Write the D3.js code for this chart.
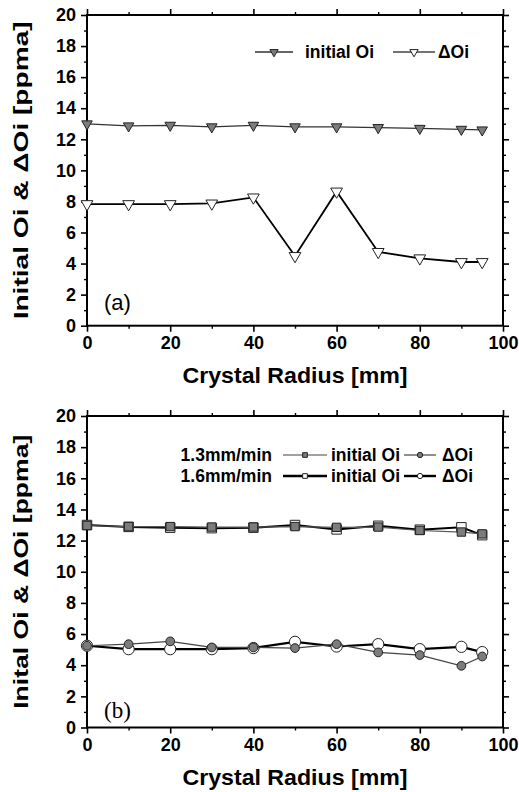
<!DOCTYPE html>
<html>
<head>
<meta charset="utf-8">
<script src="https://cdn.jsdelivr.net/npm/d3@7"></script>
<style>
body{margin:0;background:#ffffff;}
</style>
</head>
<body>
<div id="Main_Part"></div>
<script>
// crystal radius positions [mm]
var RadiusValues = [0,10,20,30,40,50,60,70,80,90,95];

// panel (a)
var InitialOiA = [12.99,12.86,12.9,12.8,12.9,12.8,12.8,12.75,12.7,12.64,12.6];
var DeltaOiA = [7.83,7.83,7.83,7.87,8.26,4.49,8.64,4.75,4.34,4.1,4.1];

// panel (b) : 1.3mm/min and 1.6mm/min
var InitialOiSlow = [12.97,12.9,12.9,12.87,12.87,12.9,12.85,12.87,12.65,12.55,12.43];
var DeltaOiSlow = [5.25,5.35,5.53,5.14,5.14,5.1,5.35,4.82,4.65,3.96,4.56];
var InitialOiFast = [13.0,12.88,12.83,12.8,12.83,13.0,12.72,12.95,12.7,12.85,12.35];
var DeltaOiFast = [5.25,5.03,5.03,5.03,5.1,5.5,5.2,5.35,5.03,5.18,4.84];

var XMajorTicks = [0,20,40,60,80,100];
var XMinorTicks = [10,30,50,70,90];
var YMajorTicks = [0,2,4,6,8,10,12,14,16,18,20];
var YMinorTicks = [1,3,5,7,9,11,13,15,17,19];

var XTitle = "Crystal Radius [mm]";
var YTitleA = "Initial Oi & \u0394Oi [ppma]";
var YTitleB = "Inital Oi & \u0394Oi [ppma]";

var SansFont = "'Liberation Sans', Arial, sans-serif";
var SerifFont = "'Liberation Serif', 'Times New Roman', serif";
var FilledGray = "#7c7c7c";
var PlotLeft = 87, PlotRight = 503;

var svg = d3.select('#Main_Part')
	.append("svg")
	.attr("width",519)
	.attr("height",792)
	.style("display","block");

function DrawFrame(yScale,xScale,TitleY,YTitle,YTitleLength)
{
	var top = yScale(20), bottom = yScale(0);

	// major and minor ticks on all four sides, pointing out
	var axes = [
		[d3.axisBottom(xScale),"translate(0," + bottom + ")",XMajorTicks,XMinorTicks,true],
		[d3.axisTop(xScale),"translate(0," + top + ")",XMajorTicks,XMinorTicks,false],
		[d3.axisLeft(yScale),"translate(" + PlotLeft + ",0)",YMajorTicks,YMinorTicks,true],
		[d3.axisRight(yScale),"translate(" + PlotRight + ",0)",YMajorTicks,YMinorTicks,false]
	];
	axes.forEach(function(a)
	{
		var major = svg.append("g")
		.attr("transform",a[1])
		.call(a[0].tickValues(a[2]).tickSize(6).tickSizeOuter(0).tickPadding(5)
			.tickFormat(a[4] ? d3.format("d") : ""));
		major.selectAll("line").attr("stroke","#000").attr("stroke-width",1.6);
		major.select(".domain").remove();
		major.selectAll("text")
		.style("font-family",SansFont)
		.style("font-weight","bold")
		.style("font-size","18px")
		.attr("fill","#000");

		var minor = svg.append("g")
		.attr("transform",a[1])
		.call(a[0].tickValues(a[3]).tickSize(3).tickFormat(""));
		minor.selectAll("line").attr("stroke","#000").attr("stroke-width",1.4);
		minor.select(".domain").remove();
	});

	svg.append("rect")
	.attr("x",PlotLeft)
	.attr("y",top)
	.attr("width",PlotRight - PlotLeft)
	.attr("height",bottom - top)
	.attr("fill","none")
	.attr("stroke","#000")
	.attr("stroke-width",2);

	svg.append("text")
	.attr("x",(PlotLeft + PlotRight)/2)
	.attr("y",TitleY)
	.attr("text-anchor","middle")
	.attr("textLength",225)
	.attr("lengthAdjust","spacingAndGlyphs")
	.text(XTitle)
	.style("font-family",SansFont)
	.style("font-weight","bold")
	.style("font-size","22px");

	svg.append("text")
	.attr("transform","translate(28," + ((top + bottom)/2) + ") rotate(-90)")
	.attr("text-anchor","middle")
	.attr("textLength",YTitleLength)
	.attr("lengthAdjust","spacingAndGlyphs")
	.text(YTitle)
	.style("font-family",SansFont)
	.style("font-weight","bold")
	.style("font-size","21px");

	return null;
}

function DrawSeries(xScale,yScale,Values,LineColor,LineWidth,Symbol,SymbolSize,Fill,Rotate)
{
	var points = RadiusValues.map(function(r,i){ return [r,Values[i]]; });

	svg.append("path")
	.datum(points)
	.attr("fill","none")
	.attr("stroke",LineColor)
	.attr("stroke-width",LineWidth)
	.attr("d",d3.line()
		.x(function(d){ return xScale(d[0]); })
		.y(function(d){ return yScale(d[1]); }));

	svg.append("g")
	.selectAll("path")
	.data(points)
	.enter()
	.append("path")
	.attr("d",d3.symbol().type(Symbol).size(SymbolSize))
	.attr("transform",function(d){
		return "translate(" + xScale(d[0]) + "," + yScale(d[1]) + ")" + (Rotate ? " rotate(180)" : "");
	})
	.attr("fill",Fill)
	.attr("stroke","#222")
	.attr("stroke-width",1);

	return null;
}

function LegendItem(x1,x2,y,LineColor,LineWidth,Symbol,SymbolSize,Fill,Rotate)
{
	svg.append("line")
	.attr("x1",x1).attr("x2",x2)
	.attr("y1",y).attr("y2",y)
	.attr("stroke",LineColor)
	.attr("stroke-width",LineWidth);

	svg.append("path")
	.attr("d",d3.symbol().type(Symbol).size(SymbolSize))
	.attr("transform","translate(" + ((x1 + x2)/2) + "," + y + ")" + (Rotate ? " rotate(180)" : ""))
	.attr("fill",Fill)
	.attr("stroke","#222")
	.attr("stroke-width",1);
	return null;
}

function LegendText(x,y,TextString,Anchor)
{
	svg.append("text")
	.attr("x",x)
	.attr("y",y)
	.attr("text-anchor",Anchor || "start")
	.text(TextString)
	.style("font-family",SansFont)
	.style("font-weight","bold")
	.style("font-size","17.5px");
	return null;
}

// ---------- panel (a)
var xA = d3.scaleLinear().domain([0,100]).range([PlotLeft,PlotRight]);
var yA = d3.scaleLinear().domain([0,20]).range([325.7,15]);

DrawFrame(yA,xA,383,YTitleA,298);
DrawSeries(xA,yA,InitialOiA,"#333",1.2,d3.symbolTriangle,48,FilledGray,true);
DrawSeries(xA,yA,DeltaOiA,"#000",1.8,d3.symbolTriangle,60,"#fff",true);

LegendItem(255,293,52,"#333",1.4,d3.symbolTriangle,30,FilledGray,true);
LegendText(305,58,"initial Oi");
LegendItem(393,435,52,"#444",1.4,d3.symbolTriangle,30,"#fff",true);
LegendText(438,58,"\u0394Oi");

svg.append("text")
.attr("x",104)
.attr("y",310)
.text("(a)")
.style("font-family",SansFont)
.style("font-size","22px");

// ---------- panel (b)
var xB = d3.scaleLinear().domain([0,100]).range([PlotLeft,PlotRight]);
var yB = d3.scaleLinear().domain([0,20]).range([727.5,416]);

DrawFrame(yB,xB,785,YTitleB,274);
DrawSeries(xB,yB,InitialOiFast,"#000",2,d3.symbolSquare,90,"#fff",false);
DrawSeries(xB,yB,InitialOiSlow,"#555",1.2,d3.symbolSquare,70,FilledGray,false);
DrawSeries(xB,yB,DeltaOiFast,"#000",2.2,d3.symbolCircle,100,"#fff",false);
DrawSeries(xB,yB,DeltaOiSlow,"#444",1.2,d3.symbolCircle,60,FilledGray,false);

LegendText(272,461,"1.3mm/min","end");
LegendItem(283,327,455,"#444",1.2,d3.symbolSquare,22,FilledGray,false);
LegendText(331,461,"initial Oi");
LegendItem(404,436,455,"#444",1.2,d3.symbolCircle,22,FilledGray,false);
LegendText(442,461,"\u0394Oi");

LegendText(272,482,"1.6mm/min","end");
LegendItem(283,327,476,"#000",2.4,d3.symbolSquare,22,"#fff",false);
LegendText(331,482,"initial Oi");
LegendItem(404,436,476,"#000",2.4,d3.symbolCircle,22,"#fff",false);
LegendText(442,482,"\u0394Oi");

svg.append("text")
.attr("x",104)
.attr("y",718)
.text("(b)")
.style("font-family",SerifFont)
.style("font-size","23px");
</script>
</body>
</html>
